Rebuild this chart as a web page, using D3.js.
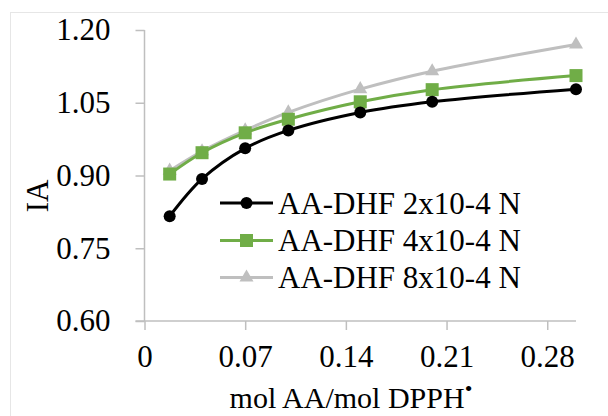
<!DOCTYPE html>
<html>
<head>
<meta charset="utf-8">
<script src="https://cdn.jsdelivr.net/npm/d3@7"></script>
<style>
  html, body { margin: 0; padding: 0; background: #fff; }
  svg { display: block; }
  svg text { font-family: "Liberation Serif", "Times New Roman", serif !important; fill: #000; }
</style>
</head>
<body>
<svg id="chart" width="608" height="416"></svg>
<script>
// Ratio of ascorbic acid to DPPH radical
const ratios = [0.0175, 0.04, 0.07, 0.10, 0.15, 0.20, 0.30];

// Inhibition activity for each concentration
const ia2x10 = [0.816, 0.893, 0.956, 0.993, 1.030, 1.052, 1.078];
const ia4x10 = [0.903, 0.947, 0.988, 1.016, 1.052, 1.077, 1.106];
const ia8x10 = [0.910, 0.950, 0.993, 1.030, 1.078, 1.115, 1.170];

const seriesNames = ["AA-DHF 2x10-4 N", "AA-DHF 4x10-4 N", "AA-DHF 8x10-4 N"];
const seriesColors = ["#000000", "#70ad47", "#bfbfbf"];
const seriesMarkers = ["circle", "square", "triangle"];

const xTicks = [0, 0.07, 0.14, 0.21, 0.28];
const yTicks = [0.60, 0.75, 0.90, 1.05, 1.20];

const serif = "'Liberation Serif', 'Times New Roman', serif";
const svg = d3.select("#chart");

// Chart frame
svg.append("rect")
  .attr("x", 10.5).attr("y", 12.5)
  .attr("width", 640).attr("height", 440)
  .attr("fill", "#fff")
  .attr("stroke", "#e6e6e6").attr("stroke-width", 1);

const x = d3.scaleLinear().domain([0, 0.30]).range([144.5, 576]);
const y = d3.scaleLinear().domain([0.60, 1.20]).range([321, 30]);

const axisColor = "#bfbfbf";

// X axis
const gx = svg.append("g").attr("transform", `translate(0,${y(0.60)})`)
  .call(d3.axisBottom(x).tickValues(xTicks).tickSize(9).tickPadding(15)
    .tickFormat(d => d === 0 ? "0" : d3.format(".2f")(d)));
gx.attr("font-family", null).attr("font-size", null);
gx.select(".domain").attr("stroke", axisColor).attr("stroke-width", 1.5)
  .attr("d", `M${x(0) - 9},0H${x(0.30)}`);
gx.selectAll(".tick line").attr("stroke", axisColor).attr("stroke-width", 1.5);
gx.selectAll(".tick text").style("font-size", "31px").style("font-family", serif).attr("fill", "#000");

// Y axis
const gy = svg.append("g").attr("transform", `translate(${x(0)},0)`)
  .call(d3.axisLeft(y).tickValues(yTicks).tickSize(9).tickPadding(25)
    .tickFormat(d3.format(".2f")));
gy.attr("font-family", null).attr("font-size", null);
gy.select(".domain").attr("stroke", axisColor).attr("stroke-width", 1.5)
  .attr("d", `M0,${y(0.60)}V${y(1.20)}`);
gy.selectAll(".tick line").attr("stroke", axisColor).attr("stroke-width", 1.5);
gy.selectAll(".tick text").style("font-size", "31px").style("font-family", serif).attr("fill", "#000");

// Axis titles
const xTitle = svg.append("text")
  .attr("x", 351).attr("y", 408)
  .attr("text-anchor", "middle")
  .style("font-family", serif)
  .style("font-size", "30px");
xTitle.append("tspan").text("mol AA/mol DPPH");
xTitle.append("tspan").attr("dy", -12).style("font-size", "22px").text("•");

svg.append("text")
  .attr("transform", "translate(48,196) rotate(-90)")
  .attr("text-anchor", "middle")
  .style("font-family", serif)
  .style("font-size", "31px")
  .text("IA");

// Series
const allSeries = [ia2x10, ia4x10, ia8x10];
const line = d3.line()
  .x(d => x(d[0])).y(d => y(d[1]))
  .curve(d3.curveCatmullRom.alpha(0.5));

function drawMarker(g, kind, cx, cy, color) {
  if (kind === "circle") {
    g.append("circle").attr("cx", cx).attr("cy", cy).attr("r", 6).attr("fill", color);
  } else if (kind === "square") {
    g.append("rect").attr("x", cx - 6.5).attr("y", cy - 6.5)
      .attr("width", 13).attr("height", 13).attr("fill", color);
  } else {
    const s = 14;
    const h = s * Math.sqrt(3) / 2;
    g.append("path")
      .attr("d", `M${cx},${cy - h * 2 / 3}L${cx + s / 2},${cy + h / 3}L${cx - s / 2},${cy + h / 3}Z`)
      .attr("fill", color);
  }
}

// Draw lightest series first so the darker ones sit on top
[2, 1, 0].forEach(i => {
  const pts = ratios.map((r, j) => [r, allSeries[i][j]]);
  const g = svg.append("g");
  g.append("path").datum(pts)
    .attr("d", line)
    .attr("fill", "none")
    .attr("stroke", seriesColors[i])
    .attr("stroke-width", 3)
    .attr("stroke-linejoin", "round");
  pts.forEach(p => drawMarker(g, seriesMarkers[i], x(p[0]), y(p[1]), seriesColors[i]));
});

// Legend
const legendY = [203, 240.5, 277.5];
seriesNames.forEach((name, i) => {
  const g = svg.append("g");
  g.append("line")
    .attr("x1", 220).attr("x2", 273)
    .attr("y1", legendY[i]).attr("y2", legendY[i])
    .attr("stroke", seriesColors[i]).attr("stroke-width", 3);
  drawMarker(g, seriesMarkers[i], 246.5, legendY[i], seriesColors[i]);
  g.append("text")
    .attr("x", 278).attr("y", legendY[i])
    .attr("dy", "0.35em")
    .style("font-family", serif)
    .style("font-size", "31px")
    .text(name);
});
</script>
</body>
</html>
